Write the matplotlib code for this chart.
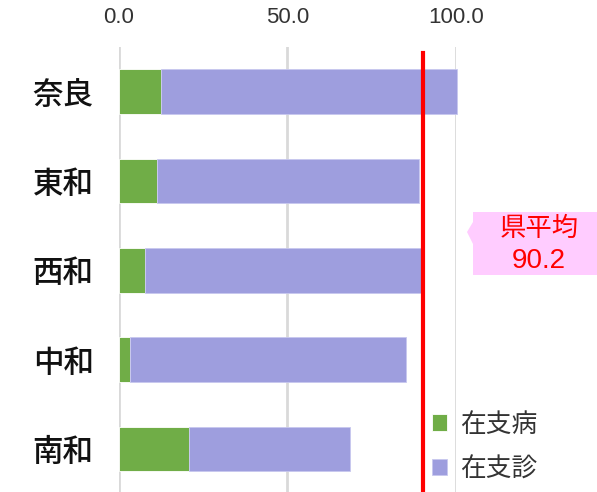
import matplotlib.pyplot as plt
from matplotlib.patches import Polygon

plt.rcParams['font.family'] = ['Noto Sans CJK JP', 'DejaVu Sans']

# data
areas = ['奈良', '東和', '西和', '中和', '南和']
byoin = [12.5, 11.4, 7.9, 3.3, 20.8]      # 在支病
shinryo = [87.8, 77.7, 81.9, 81.9, 47.8]  # 在支診
ken_avg = 90.2
xticks = [0, 50, 100]

green = '#70AD47'
purple = '#9E9EDE'

fig = plt.figure(figsize=(5.97, 4.92), dpi=100)
ax = fig.add_axes([0.1988, -0.003, 0.565, 0.9075])

ypos = range(len(areas))
ax.barh(ypos, byoin, height=0.5, color=green, edgecolor='white', linewidth=0.6,
        label='在支病', zorder=3, clip_on=False)
ax.barh(ypos, shinryo, left=byoin, height=0.5, color=purple, edgecolor='#C8C8EE',
        linewidth=0.6, label='在支診', zorder=3, clip_on=False)
ax.axvline(ken_avg, ymin=0, ymax=0.987, color='#FF0000', linewidth=3, zorder=4)

ax.set_xlim(0, 100)
ax.set_ylim(len(areas) - 0.5, -0.5)
ax.set_xticks(xticks)
ax.set_xticklabels([f'{v:.1f}' for v in xticks], family='Liberation Sans',
                   fontsize=16, color='#333333')
ax.xaxis.tick_top()
ax.tick_params(axis='x', length=0, pad=14)
ax.set_yticks(list(ypos))
ax.set_yticklabels(areas, fontsize=22, fontweight='medium', color='#111111')
ax.tick_params(axis='y', length=0, pad=18)
ax.grid(axis='x', color='#D9D9D9', linewidth=2, zorder=0)
for s in ax.spines.values():
    s.set_visible(False)

leg = ax.legend(loc='lower left', bbox_to_anchor=(0.875, -0.015), frameon=False,
                fontsize=18.5, handlelength=0.6, handleheight=0.6,
                handletextpad=0.5, labelspacing=0.72, borderaxespad=0.3)
for t in leg.get_texts():
    t.set_color('#333333')

# callout box
W, H = 597, 492
pts = [(473, 212), (597, 212), (597, 275), (473, 275), (473, 244), (467, 232), (473, 222)]
fig.patches.append(Polygon([(x / W, 1 - y / H) for x, y in pts], closed=True,
                           transform=fig.transFigure, facecolor='#FFCCFF',
                           edgecolor='none', zorder=5))
fig.text(539 / W, 1 - 228 / H, '県平均', ha='center', va='center',
         fontsize=19, color='#FF0000', zorder=6)
fig.text(539 / W, 1 - 261 / H, f'{ken_avg:.1f}', ha='center', va='center',
         fontsize=20, color='#FF0000', family='Liberation Sans', zorder=6)

fig.savefig('out.png', dpi=100)
